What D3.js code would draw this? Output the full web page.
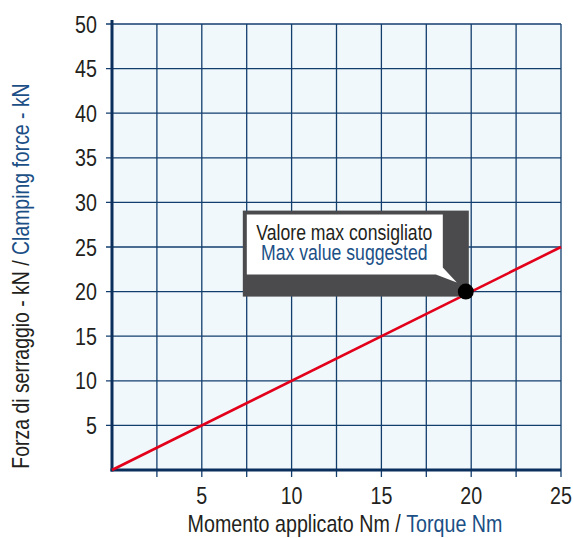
<!DOCTYPE html>
<html>
<head>
<meta charset="utf-8">
<script src="https://cdn.jsdelivr.net/npm/d3@7"></script>
<style>
  body { margin: 0; background: #fff; }
  svg text { font-family: "Liberation Sans", Arial, sans-serif; }
</style>
</head>
<body>
<svg width="573" height="538"></svg>
<script>
const xTicks = [5, 10, 15, 20, 25];
const yTicks = [5, 10, 15, 20, 25, 30, 35, 40, 45, 50];
const xGrid = [2.5, 5, 7.5, 10, 12.5, 15, 17.5, 20, 22.5, 25];
const torque = [0, 25];
const clamping = [0, 25];
const maxPoint = [19.7, 20];

const svg = d3.select('svg');
const plotL = 112, plotR = 561, plotT = 24, plotB = 470;
const narrow = 0.82; // squeeze to look like Arial Narrow

const x = d3.scaleLinear().domain([0, 25]).range([plotL, plotR]);
const y = d3.scaleLinear().domain([0, 50]).range([plotB, plotT]);

const navy = '#123e6e';
const ink = '#231f20';
const blue = '#1b4f86';

// narrow text helper
function label(transform, anchor, size, color) {
  return svg.append('g')
    .attr('transform', `${transform} scale(${narrow},1)`)
    .append('text')
    .attr('text-anchor', anchor)
    .attr('font-size', size)
    .attr('fill', color);
}

// plot background
svg.append('rect')
  .attr('x', plotL).attr('y', plotT)
  .attr('width', plotR - plotL).attr('height', plotB - plotT)
  .attr('fill', '#f1f8fc');

// grid
svg.append('g').selectAll('line')
  .data(xGrid)
  .enter()
  .append('line')
  .attr('x1', (d) => x(d)).attr('x2', (d) => x(d))
  .attr('y1', plotT).attr('y2', plotB + 7)
  .attr('stroke', navy).attr('stroke-width', 1.3);

svg.append('g').selectAll('line')
  .data(yTicks)
  .enter()
  .append('line')
  .attr('x1', plotL - 6).attr('x2', plotR)
  .attr('y1', (d) => y(d)).attr('y2', (d) => y(d))
  .attr('stroke', navy).attr('stroke-width', 1.3);

// axes
svg.append('line')
  .attr('x1', plotL).attr('x2', plotL)
  .attr('y1', plotT - 4).attr('y2', plotB + 1.5)
  .attr('stroke', '#0a2f5c').attr('stroke-width', 3);
svg.append('line')
  .attr('x1', plotL - 1.5).attr('x2', plotR)
  .attr('y1', plotB).attr('y2', plotB)
  .attr('stroke', '#0a2f5c').attr('stroke-width', 3);

// tick labels
xTicks.forEach((d) => {
  label(`translate(${x(d)},504)`, 'middle', '24px', ink).text(d);
});
yTicks.forEach((d) => {
  label(`translate(97,${y(d) + 8.5})`, 'end', '24px', ink).text(d);
});

// axis titles
const xt = label('translate(345,532)', 'middle', '24px', ink);
xt.append('tspan').text('Momento applicato Nm / ');
xt.append('tspan').attr('fill', blue).text('Torque Nm');

const yt = label('translate(28.5,276) rotate(-90)', 'middle', '23.7px', ink);
yt.append('tspan').text('Forza di serraggio - kN / ');
yt.append('tspan').attr('fill', blue).text('Clamping force - kN');

// red line
svg.append('path')
  .datum(d3.zip(torque, clamping))
  .attr('d', d3.line().x((d) => x(d[0])).y((d) => y(d[1])))
  .attr('fill', 'none')
  .attr('stroke', '#e2001a')
  .attr('stroke-width', 2.6);

// callout
const px = x(maxPoint[0]), py = y(maxPoint[1]);
svg.append('rect')
  .attr('x', px - 223).attr('y', py - 81)
  .attr('width', 226).attr('height', 86)
  .attr('fill', '#4b4b4d');
svg.append('path')
  .attr('d', `M${px - 219},${py - 77} H${px - 23} V${py - 24} L${px - 9},${py - 9} L${px - 30},${py - 17} H${px - 219} Z`)
  .attr('fill', '#fff');
label(`translate(${px - 121.5},${py - 52})`, 'middle', '21.5px', ink)
  .text('Valore max consigliato');
label(`translate(${px - 121.5},${py - 31.5})`, 'middle', '21.5px', blue)
  .text('Max value suggested');

svg.append('circle')
  .attr('cx', px).attr('cy', py)
  .attr('r', 8)
  .attr('fill', '#000');
</script>
</body>
</html>
